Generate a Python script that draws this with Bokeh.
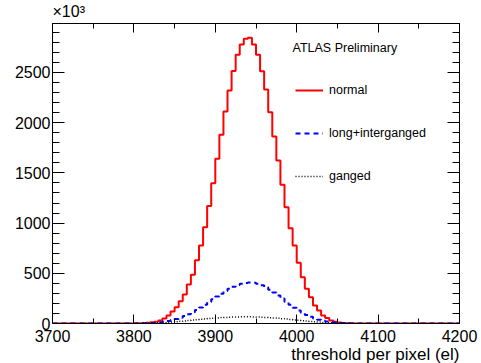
import numpy as np
from bokeh.plotting import figure
from bokeh.models import (Range1d, LinearAxis, SingleIntervalTicker, Label,
                          Legend, LegendItem, Title, CustomLabelingPolicy)
from bokeh.embed import file_html
from bokeh.resources import INLINE

# ---------------- data (units of 10^3 entries) ----------------
BIN_WIDTH = 5
X_MIN, X_MAX = 3700, 4200
FIRST_BIN = 3795  # left edge of first listed bin; all other bins are empty

normal = [1, 2, 3, 5, 8, 12, 18, 30, 50, 80,
          120, 162, 222, 289, 388, 485, 630, 777, 959, 1170,
          1398, 1640, 1879, 2112, 2321, 2515, 2676, 2779, 2835, 2845,
          2779, 2676, 2513, 2331, 2105, 1863, 1623, 1381, 1158, 949,
          777, 604, 461, 345, 262, 179, 129, 80, 56, 30,
          17, 10, 6, 3, 2, 1, 1, 0, 0]

long_interganged = [0, 0, 1, 2, 3, 5, 8, 12, 18, 25,
                    34, 45, 58, 74, 92, 112, 135, 160, 186, 214,
                    242, 270, 297, 323, 346, 366, 383, 396, 404, 408,
                    405, 396, 381, 361, 337, 309, 279, 248, 216, 186,
                    157, 130, 106, 84, 66, 50, 37, 27, 19, 13,
                    9, 6, 4, 2, 1, 1, 0, 0, 0]

ganged = [0, 1, 1, 2, 3, 4, 5, 7, 9, 12,
          15, 18, 22, 26, 30, 34, 38, 42, 46, 50,
          53, 56, 59, 61, 63, 64, 65, 66, 66, 66,
          65, 64, 62, 60, 58, 55, 52, 48, 44, 40,
          36, 32, 28, 24, 20, 17, 14, 11, 9, 7,
          5, 4, 3, 2, 1, 1, 0, 0, 0]

series_labels = ["normal", "long+interganged", "ganged"]
x_title = "threshold per pixel (el)"
y_scale_note = "×10³"
header = "ATLAS Preliminary"
Y_MAX = 2988

FONT = "Liberation Sans"


def full_hist(vals):
    n_bins = (X_MAX - X_MIN) // BIN_WIDTH
    counts = np.zeros(n_bins)
    i0 = (FIRST_BIN - X_MIN) // BIN_WIDTH
    counts[i0:i0 + len(vals)] = vals
    edges = np.arange(X_MIN, X_MAX + BIN_WIDTH, BIN_WIDTH)
    return edges, np.append(counts, counts[-1])


p = figure(width=481, height=363, output_backend="svg", toolbar_location=None,
           x_range=Range1d(X_MIN, X_MAX), y_range=Range1d(0, Y_MAX),
           min_border_left=52, min_border_right=22, min_border_top=23,
           min_border_bottom=40, background_fill_color="white",
           border_fill_color="white")
p.xgrid.grid_line_color = None
p.ygrid.grid_line_color = None
p.outline_line_color = "black"
p.outline_line_width = 1


def style_axis(ax, major_in, minor_in, show_labels, standoff):
    ax.axis_line_color = "black"
    ax.axis_line_width = 1
    ax.major_tick_in = major_in
    ax.major_tick_out = 0
    ax.minor_tick_in = minor_in
    ax.minor_tick_out = 0
    ax.major_tick_line_color = "black"
    ax.minor_tick_line_color = "black"
    ax.major_label_text_font = FONT
    ax.major_label_text_color = "black"
    ax.major_label_standoff = standoff
    if show_labels:
        ax.major_label_text_font_size = "16px"
    else:
        ax.major_label_text_font_size = "1px"
        ax.major_label_policy = CustomLabelingPolicy(code="return []")


bx = p.xaxis[0]
bx.ticker = SingleIntervalTicker(interval=100, num_minor_ticks=2)
style_axis(bx, 9, 5, True, 6)

ly = p.yaxis[0]
ly.ticker = SingleIntervalTicker(interval=500, num_minor_ticks=5)
style_axis(ly, 12, 7, True, 2)

tx = LinearAxis(ticker=SingleIntervalTicker(interval=100, num_minor_ticks=2))
style_axis(tx, 9, 5, False, 0)
p.add_layout(tx, "above")
ry = LinearAxis(ticker=SingleIntervalTicker(interval=500, num_minor_ticks=5))
style_axis(ry, 12, 7, False, 0)
p.add_layout(ry, "right")

p.add_layout(Title(text=y_scale_note, align="left", text_font=FONT,
                   text_font_size="16px", text_font_style="normal",
                   text_color="black", standoff=0, offset=0), "above")
p.add_layout(Title(text=x_title, align="right", text_font=FONT,
                   text_font_size="17px", text_font_style="normal",
                   text_color="black", standoff=-3, offset=0), "below")

e, y = full_hist(normal)
r_norm = p.step(e, y, mode="after", line_color="#ff0000", line_width=2)
e, y = full_hist(long_interganged)
r_long = p.step(e, y, mode="after", line_color="#0000ff", line_width=2,
                line_dash="5 4")
e, y = full_hist(ganged)
r_gang = p.step(e, y, mode="after", line_color="black", line_width=1.5,
                line_dash="1 2")

legend = Legend(items=[LegendItem(label=series_labels[0], renderers=[r_norm]),
                       LegendItem(label=series_labels[1], renderers=[r_long]),
                       LegendItem(label=series_labels[2], renderers=[r_gang])],
                location=(243, 137), padding=0, margin=0, spacing=23,
                glyph_width=28, glyph_height=20, label_height=20,
                label_standoff=6, border_line_color=None,
                background_fill_alpha=0, label_text_font=FONT,
                label_text_font_size="12.5px", label_text_color="black")
p.add_layout(legend)

p.add_layout(Label(x=240, y=276, x_units="screen", y_units="screen",
                   text=header, text_font=FONT,
                   text_font_size="12.5px", text_baseline="middle",
                   text_color="black"))

open("out.html", "w").write(file_html(p, INLINE))
